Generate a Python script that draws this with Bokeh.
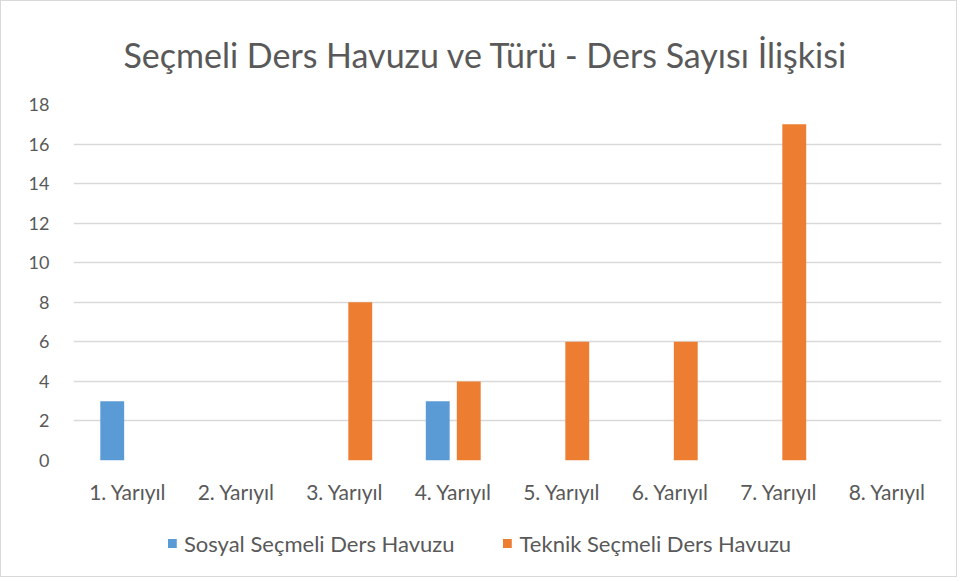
from bokeh.plotting import figure
from bokeh.layouts import column
from bokeh.models import ColumnDataSource, FactorRange, Range1d, FixedTicker, Legend
from bokeh.transform import dodge
from bokeh.embed import file_html
from bokeh.resources import INLINE

semesters = ["1. Yarıyıl", "2. Yarıyıl", "3. Yarıyıl", "4. Yarıyıl",
             "5. Yarıyıl", "6. Yarıyıl", "7. Yarıyıl", "8. Yarıyıl"]
sosyal = [3, 0, 0, 3, 0, 0, 0, 0]
teknik = [0, 0, 8, 4, 6, 6, 17, 0]
y_ticks = [0, 2, 4, 6, 8, 10, 12, 14, 16, 18]

title_text = "Seçmeli Ders Havuzu ve Türü - Ders Sayısı İlişkisi"
series_names = ["Sosyal Seçmeli Ders Havuzu", "Teknik Seçmeli Ders Havuzu"]
colors = ["#5B9BD5", "#ED7D31"]
FONT = "Lato"
TEXT_COLOR = "#595959"

src = ColumnDataSource(dict(x=semesters, sosyal=sosyal, teknik=teknik))

p = figure(x_range=FactorRange(*semesters, range_padding=0),
           y_range=Range1d(0, 18),
           frame_width=868, frame_height=356,
           min_border_left=72, min_border_right=15, min_border_top=0,
           min_border_bottom=50,
           output_backend="svg", toolbar_location=None,
           background_fill_color="white", border_fill_color="white",
           outline_line_color=None)

p.title.text = title_text
p.title.align = "left"
p.title.text_font = FONT
p.title.text_font_size = "34px"
p.title.text_font_style = "normal"
p.title.text_color = TEXT_COLOR
p.title.padding = 3
p.title.standoff = 54
p.title.offset = 47

p.vbar(x=dodge("x", -0.143, range=p.x_range), top="sosyal", width=0.22,
       source=src, color=colors[0], line_color=None)
p.vbar(x=dodge("x", 0.143, range=p.x_range), top="teknik", width=0.22,
       source=src, color=colors[1], line_color=None)

p.yaxis.ticker = FixedTicker(ticks=y_ticks)
for ax in (p.xaxis[0], p.yaxis[0]):
    ax.axis_line_color = None
    ax.major_tick_line_color = None
    ax.minor_tick_line_color = None
    ax.major_label_text_font = FONT
    ax.major_label_text_color = TEXT_COLOR
p.xaxis.major_label_text_font_size = "21px"
p.yaxis.major_label_text_font_size = "18px"
p.yaxis.major_label_standoff = 18
p.xaxis.major_label_standoff = 12

p.xgrid.grid_line_color = None
p.ygrid.grid_line_color = "#d9d9d9"
p.ygrid.grid_line_width = 1.5

# Legend row (separate strip below the chart; bars here fall outside its view)
lf = figure(x_range=FactorRange(*semesters), y_range=Range1d(100, 101),
            frame_width=925, frame_height=66,
            min_border_left=30, min_border_right=0, min_border_top=0,
            min_border_bottom=0,
            output_backend="svg", toolbar_location=None,
            background_fill_color="white", border_fill_color="white",
            outline_line_color=None)
lf.axis.visible = False
lf.grid.visible = False
l1 = lf.vbar(x="x", top="sosyal", width=0.2, source=src, color=colors[0], line_color=None)
l2 = lf.vbar(x="x", top="teknik", width=0.2, source=src, color=colors[1], line_color=None)
legend = Legend(items=[(series_names[0], [l1]), (series_names[1], [l2])],
                orientation="horizontal", location="center",
                label_text_font=FONT, label_text_font_size="22px",
                label_text_color=TEXT_COLOR, glyph_width=11, glyph_height=11,
                spacing=47, border_line_color=None, background_fill_alpha=0,
                margin=0, padding=0, label_standoff=7)
lf.add_layout(legend, "center")

layout = column(p, lf, spacing=0, styles={"border": "1px solid #d9d9d9"})

open("out.html", "w").write(file_html(layout, INLINE))
